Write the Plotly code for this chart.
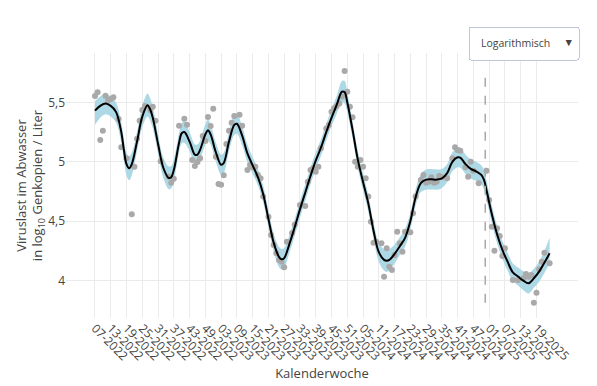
import plotly.graph_objects as go

# ---- data ----
tick_weeks = [0, 6, 12, 18, 24, 30, 36, 42, 48, 54, 60, 66, 72, 78, 84, 90, 96, 102,
              108, 114, 120, 126, 132, 138, 144, 150, 156, 162, 168]
tick_labels = ["07-2022", "13-2022", "19-2022", "25-2022", "31-2022", "37-2022", "43-2022",
               "49-2022", "03-2023", "09-2023", "15-2023", "21-2023", "27-2023", "33-2023",
               "39-2023", "45-2023", "51-2023", "05-2024", "11-2024", "17-2024", "23-2024",
               "29-2024", "35-2024", "41-2024", "47-2024", "01-2025", "07-2025", "13-2025",
               "19-2025"]

point_week = [0, 1, 2, 3, 4, 5, 6, 7, 9, 10, 12, 14, 15, 16, 17, 18, 19, 21, 22, 23, 25,
              28, 29, 30, 32, 34, 35, 37, 38, 39, 40, 41, 42, 43, 44, 45, 46, 47, 48, 49,
              50, 51, 52, 53, 55, 56, 58, 59, 60, 61, 62, 63, 64, 66, 67, 68, 69, 70, 71,
              72, 73, 75, 76, 78, 80, 81, 82, 83, 84, 85, 86, 88, 89, 90, 91, 92, 93, 94,
              95, 96, 97, 98, 99, 100, 101, 102, 103, 104, 105, 106, 107, 109, 110, 111,
              112, 113, 114, 115, 116, 117, 118, 120, 121, 122, 124, 125, 126, 127, 128,
              129, 130, 131, 132, 134, 136, 137, 138, 139, 141, 142, 143, 144, 146, 149,
              150, 151, 152, 153, 154, 155, 156, 159, 161, 163, 164, 165, 166, 167, 168,
              169, 170, 171, 173]
point_value = [5.553, 5.585, 5.183, 5.262, 5.556, 5.514, 5.528, 5.542, 5.36, 5.122, 5.029,
               4.558, 4.959, 5.194, 5.346, 5.436, 5.469, 5.436, 5.463, 5.346, 5.004,
               4.875, 4.824, 4.858, 5.304, 5.362, 5.312, 5.015, 4.965, 4.998, 5.029, 5.217,
               5.175, 5.377, 5.301, 5.447, 5.043, 4.813, 4.807, 4.886, 5.15, 5.262, 5.329,
               5.385, 5.396, 5.304, 4.931, 4.973, 4.954, 4.959, 4.889, 4.861, 4.707, 4.538,
               4.384, 4.30, 4.23, 4.174, 4.16, 4.112, 4.328, 4.40, 4.47, 4.637, 4.628,
               4.833, 4.931, 4.945, 4.917, 4.959, 5.113, 5.28, 5.31, 5.42, 5.45, 5.47,
               5.49, 5.55, 5.764, 5.59, 5.463, 5.374, 5.001, 4.959, 5.015, 4.959, 4.861,
               4.707, 4.496, 4.32, 4.328, 4.315, 4.034, 4.272, 4.118, 4.09, 4.216, 4.412,
               4.315, 4.244, 4.412, 4.407, 4.567, 4.707, 4.847, 4.889, 4.824, 4.833, 4.87,
               4.824, 4.833, 4.881, 4.87, 4.861, 5.029, 5.122, 5.10, 5.093, 4.954, 4.875,
               5.001, 4.925, 4.819, 4.925, 4.679, 4.454, 4.252, 4.441, 4.376, 4.208, 4.272,
               4.006, 4.006, 4.02, 4.056, 4.034, 4.048, 3.815, 3.899, 4.096, 4.16, 4.235,
               4.146]

fit_week = [0, 2, 4, 6, 8, 10, 11, 12, 13, 14, 16, 18, 20, 21, 22, 24, 26, 28, 29, 30,
            32, 33, 34, 36, 38, 39, 40, 42, 43, 44, 46, 48, 49, 51, 53, 54, 56, 58, 60,
            62, 64, 66, 68, 70, 71, 72, 74, 76, 78, 80, 82, 84, 86, 88, 90, 92, 94, 95,
            96, 98, 100, 102, 104, 106, 108, 110, 111, 112, 114, 116, 118, 120, 122, 124,
            126, 128, 130, 132, 134, 136, 138, 139, 141, 143, 145, 147, 148, 149, 151,
            153, 155, 157, 159, 161, 163, 165, 167, 169, 171, 173]
fit_value = [5.43, 5.47, 5.49, 5.47, 5.42, 5.25, 5.10, 4.98, 4.945, 4.98, 5.17, 5.38,
             5.475, 5.44, 5.37, 5.15, 4.95, 4.865, 4.87, 4.93, 5.16, 5.24, 5.25, 5.17,
             5.06, 5.06, 5.10, 5.23, 5.265, 5.23, 5.08, 4.975, 4.99, 5.17, 5.31, 5.32,
             5.22, 5.07, 4.97, 4.87, 4.73, 4.52, 4.32, 4.20, 4.18, 4.19, 4.31, 4.45, 4.60,
             4.74, 4.88, 5.01, 5.12, 5.25, 5.37, 5.48, 5.59, 5.585, 5.50, 5.27, 5.02, 4.83,
             4.65, 4.42, 4.24, 4.175, 4.168, 4.175, 4.225, 4.29, 4.36, 4.50, 4.70, 4.82,
             4.85, 4.853, 4.85, 4.86, 4.905, 5.00, 5.038, 5.035, 4.98, 4.94, 4.92, 4.89,
             4.85, 4.76, 4.56, 4.39, 4.26, 4.16, 4.07, 4.035, 4.00, 3.978, 4.02, 4.076,
             4.15, 4.23]
ci_upper_extra = [0.08, 0.08, 0.08, 0.08, 0.08, 0.08, 0.09, 0.095, 0.10, 0.095, 0.08,
                  0.09, 0.10, 0.095, 0.09, 0.08, 0.085, 0.095, 0.095, 0.09, 0.08, 0.085,
                  0.09, 0.08, 0.085, 0.085, 0.08, 0.085, 0.09, 0.085, 0.08, 0.085, 0.085,
                  0.08, 0.085, 0.085, 0.08, 0.075, 0.07, 0.07, 0.07, 0.07, 0.075, 0.085,
                  0.087, 0.085, 0.075, 0.07, 0.07, 0.07, 0.07, 0.07, 0.07, 0.07, 0.07,
                  0.075, 0.09, 0.095, 0.085, 0.07, 0.07, 0.07, 0.07, 0.07, 0.08, 0.09,
                  0.095, 0.09, 0.08, 0.075, 0.075, 0.07, 0.07, 0.075, 0.085, 0.087, 0.085,
                  0.08, 0.075, 0.08, 0.085, 0.085, 0.08, 0.08, 0.08, 0.08, 0.08, 0.08,
                  0.075, 0.075, 0.075, 0.075, 0.075, 0.075, 0.08, 0.085, 0.08, 0.085,
                  0.10, 0.13]
ci_lower_extra = [0.12, 0.10, 0.09, 0.09, 0.09, 0.09, 0.09, 0.095, 0.10, 0.095, 0.08,
                  0.09, 0.095, 0.095, 0.09, 0.08, 0.085, 0.095, 0.095, 0.09, 0.08, 0.085,
                  0.09, 0.08, 0.085, 0.085, 0.08, 0.085, 0.09, 0.085, 0.08, 0.085, 0.085,
                  0.08, 0.085, 0.085, 0.08, 0.075, 0.07, 0.07, 0.07, 0.07, 0.075, 0.085,
                  0.087, 0.085, 0.075, 0.07, 0.07, 0.07, 0.07, 0.07, 0.07, 0.07, 0.07,
                  0.075, 0.09, 0.095, 0.085, 0.07, 0.07, 0.07, 0.07, 0.07, 0.08, 0.09,
                  0.095, 0.09, 0.08, 0.075, 0.075, 0.07, 0.07, 0.075, 0.085, 0.087, 0.085,
                  0.08, 0.075, 0.08, 0.085, 0.085, 0.08, 0.08, 0.08, 0.08, 0.08, 0.08,
                  0.075, 0.075, 0.075, 0.075, 0.075, 0.075, 0.08, 0.085, 0.08, 0.085,
                  0.085, 0.09]
marker_week = 148.5

ci_upper = [v + e for v, e in zip(fit_value, ci_upper_extra)]
ci_lower = [v - e for v, e in zip(fit_value, ci_lower_extra)]

fig = go.Figure()
fig.add_trace(go.Scatter(x=fit_week, y=ci_lower, mode="lines", line=dict(width=0, shape="spline"),
                         hoverinfo="skip", showlegend=False))
fig.add_trace(go.Scatter(x=fit_week, y=ci_upper, mode="lines", line=dict(width=0, shape="spline"),
                         fill="tonexty", fillcolor="#ADD8E6", hoverinfo="skip", showlegend=False))
fig.add_trace(go.Scatter(x=point_week, y=point_value, mode="markers",
                         marker=dict(color="#A9A9A9", size=6), showlegend=False))
fig.add_trace(go.Scatter(x=fit_week, y=fit_value, mode="lines",
                         line=dict(color="black", width=2, shape="spline"), showlegend=False))
fig.add_trace(go.Scatter(x=[marker_week, marker_week], y=[min(point_value), max(point_value)],
                         mode="lines", line=dict(color="#A9A9A9", width=1.5, dash="dash"),
                         showlegend=False))

# the page body adds an 8px offset, so the figure is 8px smaller and margins shifted
fig.update_layout(
    width=589, height=378,
    margin=dict(l=58, r=19, t=45, b=68, autoexpand=False),
    plot_bgcolor="white", paper_bgcolor="white",
    separators=",.",
    font=dict(family="Open Sans", size=12, color="#444"),
    xaxis=dict(range=[-11.03, 183.8], tickvals=tick_weeks, ticktext=tick_labels,
               tickangle=45, showgrid=True, gridcolor="#EBEBEB", zeroline=False,
               automargin=True, ticks="",
               title=dict(text="Kalenderwoche", font=dict(size=13), standoff=3)),
    yaxis=dict(range=[3.686, 5.915], tickvals=[4, 4.5, 5, 5.5],
               showgrid=True, gridcolor="#EBEBEB", zeroline=False, ticks="",
               automargin=True,
               title=dict(text="Viruslast im Abwasser<br>in log<sub>10</sub> Genkopien / Liter",
                          font=dict(size=13), standoff=1)),
    updatemenus=[dict(type="dropdown", x=1, xanchor="right", y=1.103, yanchor="top",
                      pad=dict(t=0, r=0, l=0, b=0), font=dict(size=10.5),
                      bgcolor="white", bordercolor="#BEC8D9",
                      buttons=[dict(label="Logarithmisch", method="relayout", args=[{}]),
                               dict(label="Linear", method="relayout", args=[{}])])],
)

fig.write_html("out.html")
